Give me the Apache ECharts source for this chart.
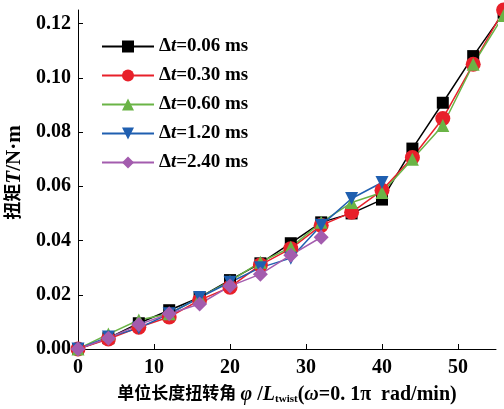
<!DOCTYPE html>
<html lang="zh">
<head>
    <meta charset="UTF-8">
    <title>扭矩</title>
    <script src="https://cdn.jsdelivr.net/npm/echarts@6/dist/echarts.min.js"></script>
    <style>
        html, body {margin: 0; padding: 0; background: #fff;}
    </style>
</head>
<body>
<div id="main" style="width: 504px;height:409px;"></div>
<script type="text/javascript">
    // 单位长度扭转角
    var xVals = [0, 4, 8, 12, 16, 20, 24, 28, 32, 36, 40, 44, 48, 52, 56];
    // 扭矩 (N·m)
    var dt006 = [0, 0.004, 0.0095, 0.0143, 0.019, 0.0254, 0.0316, 0.039, 0.0467, 0.050, 0.0551, 0.0739, 0.0908, 0.108, 0.124];
    var dt030 = [0, 0.0037, 0.008, 0.0118, 0.018, 0.0228, 0.031, 0.037, 0.0456, 0.0504, 0.0585, 0.0706, 0.085, 0.105, 0.125];
    var dt060 = [0, 0.0055, 0.0107, 0.013, 0.019, 0.025, 0.032, 0.0375, 0.0467, 0.054, 0.0577, 0.070, 0.0824, 0.105, 0.123];
    var dt120 = [0, 0.0044, 0.0077, 0.013, 0.019, 0.0246, 0.030, 0.0335, 0.0456, 0.0555, 0.0614];
    var dt240 = [0, 0.004, 0.009, 0.013, 0.0166, 0.0232, 0.0276, 0.0346, 0.0412];
    var names = ['0.06', '0.30', '0.60', '1.20', '2.40'];
    var colors = ['#000000', '#e8202a', '#6ab446', '#1f5fb0', '#a35cae'];

    var serif = "'Times New Roman', 'Liberation Serif', 'Noto Sans CJK SC', serif";

    function pairs(ys) {
        var out = [];
        for (var i = 0; i < ys.length; i++) out.push([xVals[i], ys[i]]);
        return out;
    }

    var dom = document.getElementById("main");
    var myChart = echarts.init(dom);

    var symbols = [
        {symbol: 'rect', size: 12, rotate: 0},
        {symbol: 'circle', size: 15, rotate: 0},
        {symbol: 'triangle', size: 13, rotate: 0},
        {symbol: 'triangle', size: 13, rotate: 180},
        {symbol: 'diamond', size: 15, rotate: 0}
    ];
    var allData = [dt006, dt030, dt060, dt120, dt240];

    var series = [];
    for (var k = 0; k < allData.length; k++) {
        series.push({
            name: names[k],
            type: 'line',
            data: pairs(allData[k]),
            symbol: symbols[k].symbol,
            symbolSize: symbols[k].size,
            symbolRotate: symbols[k].rotate,
            clip: false,
            lineStyle: {color: colors[k], width: 1.5},
            itemStyle: {color: colors[k]}
        });
    }

    function bold(size, italic) {
        return {fontFamily: serif, fontWeight: 'bold', fontStyle: italic ? 'italic' : 'normal', fontSize: size, color: '#000'};
    }

    var option = {
        animation: false,
        grid: {left: 78, right: 8, top: 10, bottom: 60, outerBoundsMode: 'none', containLabel: false},
        legend: {
            orient: 'vertical',
            left: 96,
            top: 32,
            itemWidth: 52,
            itemHeight: 15,
            itemGap: 10,
            data: names,
            formatter: function (n) {
                return '{d|Δ}{t|t}{n|=' + n + ' ms}';
            },
            textStyle: {
                rich: {d: bold(19), t: bold(19, true), n: bold(19)}
            }
        },
        xAxis: {
            type: 'value',
            min: 0,
            max: 55,
            interval: 10,
            name: '{c|单位长度扭转角 }{i|φ}{n| /}{i|L}{s|twist}{n|(}{i|ω}{n|=0. 1π  rad/min)}',
            nameLocation: 'middle',
            nameGap: 35,
            nameTextStyle: {
                rich: {
                    c: bold(17),
                    i: bold(20, true),
                    n: bold(20),
                    s: {fontFamily: serif, fontWeight: 'bold', fontSize: 11, color: '#000', padding: [10, 0, 0, 0]}
                }
            },
            splitLine: {show: false},
            axisLine: {onZero: false, lineStyle: {color: '#000', width: 1}},
            axisTick: {inside: true, length: 5, lineStyle: {color: '#000'}},
            axisLabel: {
                showMaxLabel: false,
                color: '#000',
                fontFamily: serif,
                fontWeight: 'bold',
                fontSize: 20,
                margin: 9
            }
        },
        yAxis: {
            type: 'value',
            min: 0,
            max: 0.125,
            interval: 0.02,
            name: '{c|扭矩}{i|T}{n|/N·m}',
            nameLocation: 'middle',
            nameGap: 51,
            nameTextStyle: {
                padding: [0, 0, 0, 14],
                rich: {c: bold(18), i: bold(21, true), n: bold(21)}
            },
            splitLine: {show: false},
            axisLine: {show: true, onZero: false, lineStyle: {color: '#000', width: 1}},
            axisTick: {show: true, inside: true, length: 5, lineStyle: {color: '#000'}},
            axisLabel: {
                showMaxLabel: false,
                color: '#000',
                fontFamily: serif,
                fontWeight: 'bold',
                fontSize: 20,
                margin: 7,
                formatter: function (v) { return v.toFixed(2); }
            }
        },
        series: series
    };

    myChart.setOption(option, true);
</script>
</body>
</html>
